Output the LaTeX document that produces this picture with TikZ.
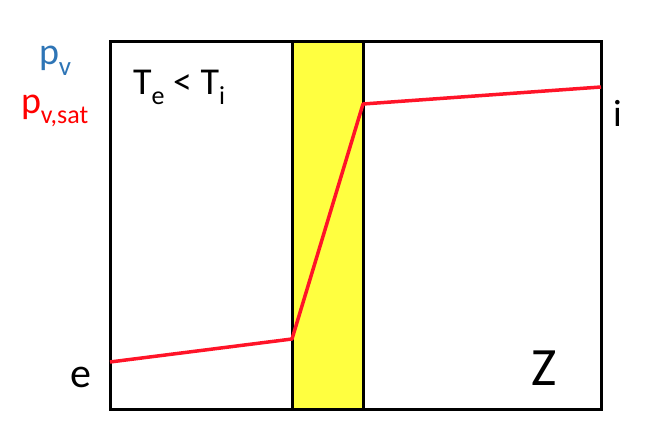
\documentclass[tikz,border=0pt]{standalone}
\usepackage{fontspec}
\setmainfont{Carlito}
\definecolor{pvblue}{RGB}{46,117,182}
\definecolor{satred}{RGB}{255,0,0}
\definecolor{linered}{RGB}{255,20,40}
\definecolor{wallyellow}{RGB}{255,255,64}
\newcommand{\sbs}[1]{\raisebox{-10pt}{\fontsize{26}{26}\selectfont #1}}
\begin{document}
\begin{tikzpicture}[x=1pt,y=-1pt,
  frame/.style={draw=black,line width=3pt},
  lbl/.style={anchor=base west,inner sep=0pt,outer sep=0pt,font=\fontsize{38}{38}\selectfont},
  profile/.style={draw=linered,line width=3.5pt,line join=round}]
\useasboundingbox (0,0) rectangle (648,430);
% wall
\fill[wallyellow] (292,42) rectangle (363,409);
\draw[frame] (110,42) rectangle (601,409);
\draw[frame] (292,42) -- (292,409);
\draw[frame] (363,42) -- (363,409);
% profile points
\coordinate (pe) at (110,362);
\coordinate (pw1) at (292,339);
\coordinate (pw2) at (363,104);
\coordinate (pi) at (601,87);
\draw[profile] (pe) -- (pw1) -- (pw2) -- (pi);
% labels
\node[lbl,text=pvblue] (pv) at (39,65) {p\raisebox{-11pt}{\fontsize{27}{27}\selectfont v}};
\node[lbl,text=satred] (pvsat) at (21,114) {p\sbs{v,sat}};
\node[lbl] (temp) at (133,95) {T\sbs{e} < T\sbs{i}};
\node[lbl,font=\fontsize{42}{42}\selectfont] (e) at (70,387) {e};
\node[lbl] (i) at (613,127) {i};
\node[lbl,font=\fontsize{54}{54}\selectfont] (Z) at (531,385) {Z};
\end{tikzpicture}
\end{document}
